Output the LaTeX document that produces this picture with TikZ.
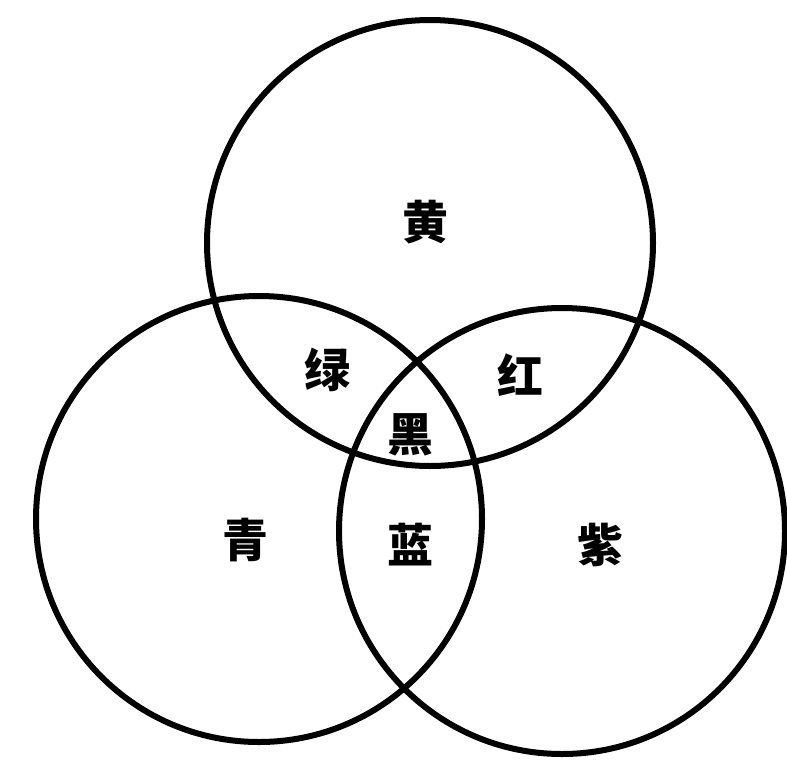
\documentclass[tikz,border=0pt]{standalone}
\usepackage{fontspec}
\newfontfamily\cjk{Noto Sans CJK SC}
\begin{document}
\begin{tikzpicture}[x=1pt,y=-1pt,
  ring/.style={draw=black,line width=6pt,circle,minimum size=446pt,inner sep=0pt},
  lbl/.style={font=\cjk\bfseries\fontsize{46}{46}\selectfont,inner sep=0pt}]
\useasboundingbox (0,0) rectangle (787,763);
\node[ring] (top) at (430,243) {};
\node[ring] (left) at (259,519) {};
\node[ring] (right) at (562,531) {};
\node[lbl] (yellow) at (425,222) {黄};
\node[lbl] (green) at (327,370) {绿};
\node[lbl] (red) at (520,375) {红};
\node[lbl] (black) at (410,435) {黑};
\node[lbl] (cyan) at (245,540) {青};
\node[lbl] (blue) at (410,545) {蓝};
\node[lbl] (purple) at (600,545) {紫};
\end{tikzpicture}
\end{document}
